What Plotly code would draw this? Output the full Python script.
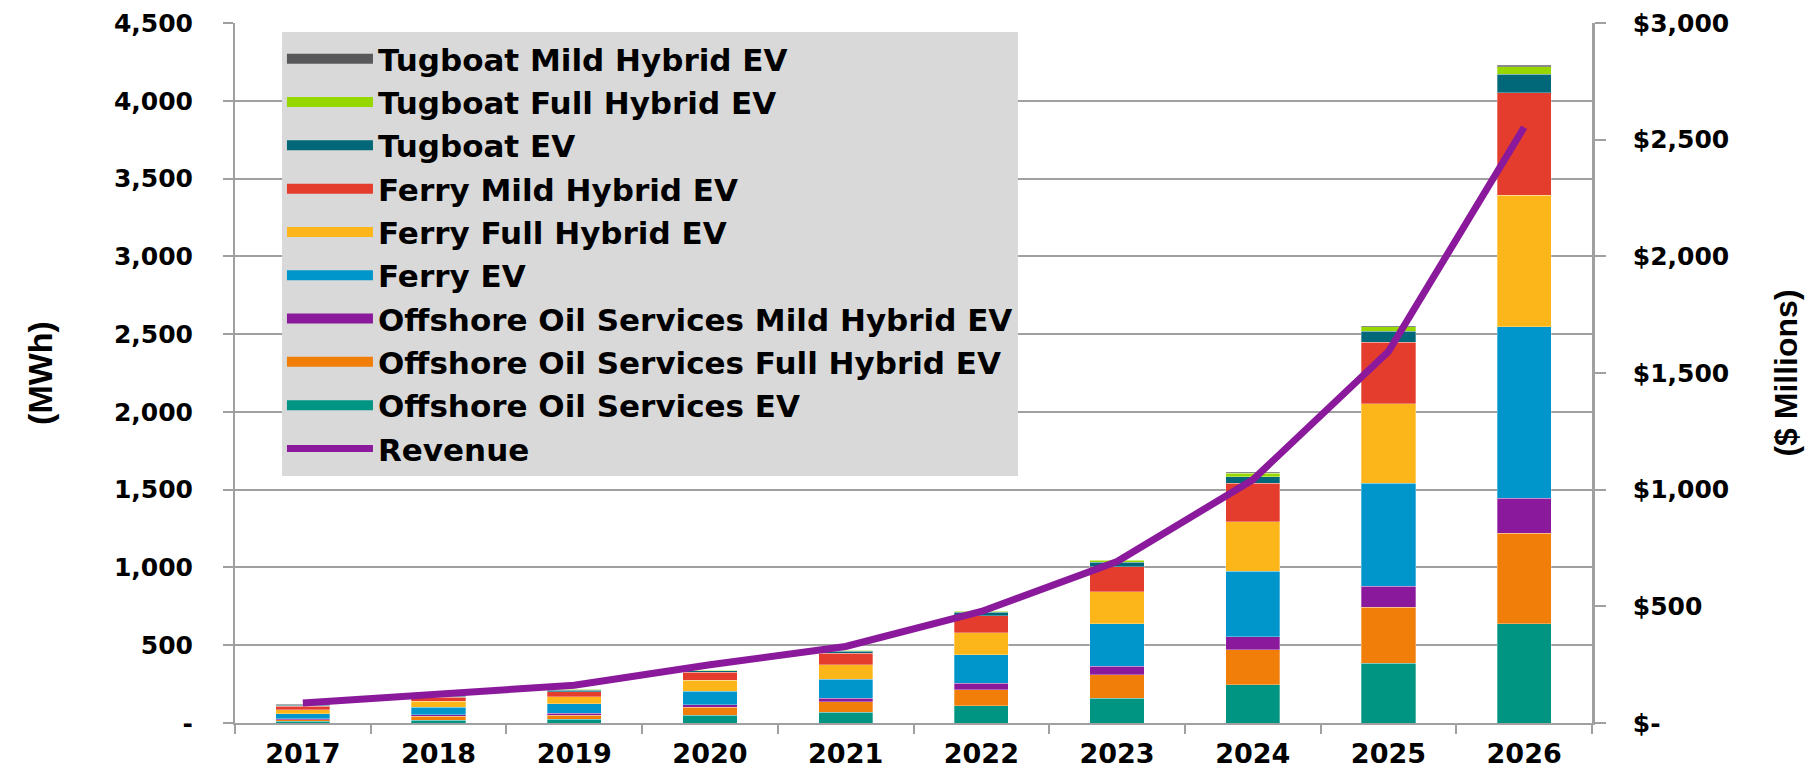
import plotly.graph_objects as go

years = ['2017', '2018', '2019', '2020', '2021', '2022', '2023', '2024', '2025', '2026']

oos_ev = [11, 19, 24, 49, 68, 111, 158, 246, 385, 638]
oos_full = [11, 24, 27, 51, 69, 103, 152, 225, 358, 582]
oos_mild = [4, 11, 13, 16, 21, 43, 56, 85, 135, 225]
ferry_ev = [32, 47, 61, 87, 122, 182, 272, 418, 664, 1103]
ferry_full = [28, 38, 45, 71, 96, 141, 207, 319, 509, 844]
ferry_mild = [23, 28, 32, 51, 74, 111, 159, 249, 397, 659]
tug_ev = [6, 6, 10, 11, 12, 20, 28, 42, 72, 118]
tug_full = [3, 3, 4, 4, 5, 9, 13, 22, 28, 49]
tug_mild = [1, 1, 1, 1, 2, 2, 4, 6, 6, 9]
revenue = [86, 126, 162, 250, 328, 478, 692, 1042, 1592, 2553]

left_ticks = [0, 500, 1000, 1500, 2000, 2500, 3000, 3500, 4000, 4500]
left_labels = ['-', '500', '1,000', '1,500', '2,000', '2,500', '3,000', '3,500', '4,000', '4,500']
right_ticks = [0, 500, 1000, 1500, 2000, 2500, 3000]
right_labels = ['$-', '$500', '$1,000', '$1,500', '$2,000', '$2,500', '$3,000']

series = [
    ('Offshore Oil Services EV', oos_ev, '#009482'),
    ('Offshore Oil Services Full Hybrid EV', oos_full, '#f07e08'),
    ('Offshore Oil Services Mild Hybrid EV', oos_mild, '#8a1a9b'),
    ('Ferry EV', ferry_ev, '#0096cb'),
    ('Ferry Full Hybrid EV', ferry_full, '#fdb619'),
    ('Ferry Mild Hybrid EV', ferry_mild, '#e43d2e'),
    ('Tugboat EV', tug_ev, '#006878'),
    ('Tugboat Full Hybrid EV', tug_full, '#97d700'),
    ('Tugboat Mild Hybrid EV', tug_mild, '#58585a'),
]

GRAY = '#a0a0a0'
ytickfont = dict(family='DejaVu Sans', size=25, color='black', weight='bold')
xtickfont = dict(family='DejaVu Sans', size=27, color='black', weight='bold')

fig = go.Figure()
n = len(series)
for i, (name, vals, col) in enumerate(series):
    fig.add_trace(go.Bar(
        x=years, y=vals, name=name,
        marker=dict(color=col, line=dict(color='rgba(255,255,255,0.5)', width=0.6)),
        legendgroup=name, showlegend=False,
        yaxis='y',
    ))
    # legend entry drawn as a wide swatch (same group as the bar series)
    fig.add_trace(go.Scatter(
        x=[None], y=[None], name=name, mode='lines',
        line=dict(color=col, width=14),
        legendgroup=name, legendrank=n - i, hoverinfo='skip',
        yaxis='y',
    ))

fig.add_trace(go.Scatter(
    x=years, y=revenue, name='Revenue', mode='lines',
    line=dict(color='#8a1a9b', width=7),
    yaxis='y2', legendrank=n + 1,
))

fig.update_layout(
    width=1815, height=770,
    margin=dict(l=235, r=223, t=23, b=47, autoexpand=False),
    paper_bgcolor='white', plot_bgcolor='white',
    barmode='stack', bargap=0.6,
    showlegend=True,
    legend=dict(
        x=0.0346, y=0.987, xanchor='left', yanchor='top',
        bgcolor='#d9d9d9', borderwidth=0,
        traceorder='normal',
        font=dict(family='DejaVu Sans', size=31, color='black', weight='bold'),
        itemwidth=86,
    ),
    xaxis=dict(
        type='category', categoryorder='array', categoryarray=years,
        tickson='boundaries', ticks='outside', ticklen=9, tickcolor=GRAY, tickwidth=2,
        showline=True, linecolor=GRAY, linewidth=2,
        showgrid=False, tickfont=xtickfont, ticklabelstandoff=6,
        automargin=False,
    ),
    yaxis=dict(
        range=[0, 4500], tickvals=left_ticks, ticktext=left_labels,
        showgrid=True, gridcolor=GRAY, gridwidth=2,
        showline=True, linecolor=GRAY, linewidth=2,
        ticks='outside', ticklen=10, tickcolor=GRAY, tickwidth=2,
        tickfont=ytickfont, ticklabelstandoff=25,
        title=dict(text='(MWh)', font=dict(family='Liberation Sans', size=34, color='black', weight='bold'), standoff=51),
        zeroline=False, automargin=False,
    ),
    yaxis2=dict(
        range=[0, 3000], tickvals=right_ticks, ticktext=right_labels,
        overlaying='y', side='right',
        showgrid=False, showline=True, linecolor=GRAY, linewidth=2.5,
        ticks='outside', ticklen=11, tickcolor=GRAY, tickwidth=2,
        tickfont=ytickfont, ticklabelstandoff=22,
        title=dict(text='($ Millions)', font=dict(family='Liberation Sans', size=32, color='black', weight='bold'), standoff=47),
        zeroline=False, automargin=False,
    ),
)

fig.write_html('out.html', config={'displayModeBar': False},
               post_script="document.body.style.margin='0';")
